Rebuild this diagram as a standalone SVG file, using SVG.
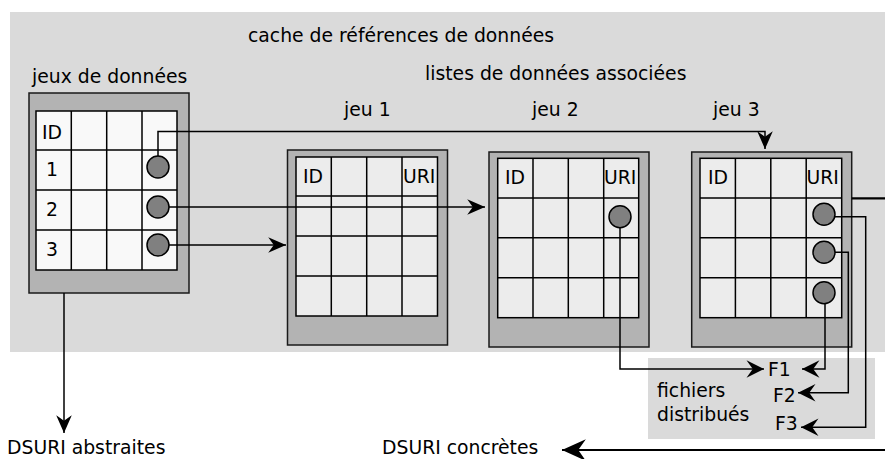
<svg xmlns="http://www.w3.org/2000/svg" width="885" height="459" viewBox="0 0 885 459">
<defs>
<style>
.t{font-family:"DejaVu Sans",sans-serif;font-size:18.8px;fill:#000}
.outer{fill:#b3b3b3;stroke:#1a1a1a;stroke-width:1.5}
.g1{fill:#f9f9f9;stroke:#000;stroke-width:1.5}
.g2{fill:#ececec;stroke:#000;stroke-width:1.5}
.gl{stroke:#000;stroke-width:1.5;fill:none}
.dot{fill:#808080;stroke:#000;stroke-width:1.5}
.c{fill:none;stroke:#000;stroke-width:1.5}
.ct{fill:none;stroke:#000;stroke-width:2.2}
.bg{fill:#dadada}
</style>
<marker id="ah" markerUnits="userSpaceOnUse" markerWidth="20" markerHeight="20" viewBox="-17 -8 18 16" refX="0" refY="0" orient="auto">
<path d="M0,0 L-16,-7 L-11,0 L-16,7 Z" fill="#000"/>
</marker>
<marker id="ahs" markerUnits="userSpaceOnUse" markerWidth="20" markerHeight="20" viewBox="-15 -8 16 16" refX="0" refY="0" orient="auto">
<path d="M0,0 L-14,-7 L-9,0 L-14,7 Z" fill="#000"/>
</marker>
<marker id="ahl" markerUnits="userSpaceOnUse" markerWidth="26" markerHeight="26" viewBox="-23 -11 24 22" refX="0" refY="0" orient="auto">
<path d="M0,0 L-22,-10 L-15,0 L-22,10 Z" fill="#000"/>
</marker>
</defs>

<g id="cache">
<rect class="bg" x="10" y="12" width="875" height="340"/>
<text class="t" x="248" y="42">cache de références de données</text>
<text class="t" x="425" y="80">listes de données associées</text>
</g>

<g id="fichiers">
<rect class="bg" x="648" y="358" width="227" height="81"/>
<text class="t" x="657" y="397">fichiers</text>
<text class="t" x="657" y="421">distribués</text>
<text class="t" x="768" y="376">F1</text>
<text class="t" x="773" y="402">F2</text>
<text class="t" x="775" y="430">F3</text>
</g>

<g id="jeux">
<text class="t" x="32" y="83">jeux de données</text>
<rect class="outer" x="29" y="93" width="160" height="200"/>
<rect class="g1" x="36" y="111" width="141" height="159"/>
<path class="gl" d="M71.3,111V270M106.7,111V270M142,111V270M36,150H177M36,190H177M36,230H177"/>
<text class="t" x="42" y="139">ID</text>
<text class="t" x="46" y="176">1</text>
<text class="t" x="46" y="216">2</text>
<text class="t" x="46" y="256">3</text>
<circle class="dot" cx="158" cy="167" r="11"/>
<circle class="dot" cx="158" cy="207" r="11"/>
<circle class="dot" cx="158" cy="245" r="11"/>
</g>

<g id="jeu1">
<text class="t" x="344" y="116">jeu 1</text>
<rect class="outer" x="287.5" y="150" width="160" height="195"/>
<rect class="g2" x="296" y="157" width="141.5" height="159"/>
<path class="gl" d="M331.3,157V316M366.7,157V316M402,157V316M296,196H437.5M296,236H437.5M296,276H437.5"/>
<text class="t" x="303" y="183">ID</text>
<text class="t" x="403" y="183">URI</text>
</g>

<g id="jeu2">
<text class="t" x="532" y="116">jeu 2</text>
<rect class="outer" x="489" y="152" width="160" height="195"/>
<rect class="g2" x="497.7" y="158.3" width="141" height="159.4"/>
<path class="gl" d="M533,158.3V317.7M568.3,158.3V317.7M603.7,158.3V317.7M497.7,198H638.7M497.7,237.7H638.7M497.7,277.7H638.7"/>
<text class="t" x="505" y="184">ID</text>
<text class="t" x="604" y="184">URI</text>
<circle class="dot" cx="620" cy="216.7" r="11"/>
</g>

<g id="jeu3">
<text class="t" x="713" y="116">jeu 3</text>
<rect class="outer" x="691.7" y="152" width="160" height="195"/>
<rect class="g2" x="700" y="158.3" width="141.7" height="159.4"/>
<path class="gl" d="M735.4,158.3V317.7M770.8,158.3V317.7M806.2,158.3V317.7M700,198H841.7M700,237.7H841.7M700,277.7H841.7"/>
<text class="t" x="708" y="184">ID</text>
<text class="t" x="806.5" y="184">URI</text>
<circle class="dot" cx="824" cy="214.3" r="11"/>
<circle class="dot" cx="824" cy="252.3" r="11"/>
<circle class="dot" cx="824" cy="292.7" r="11"/>
</g>

<g id="connectors">
<path class="c" d="M158,156V131.5H765V149" marker-end="url(#ah)"/>
<path class="c" d="M169,207H485" marker-end="url(#ah)"/>
<path class="c" d="M169,245H286" marker-end="url(#ah)"/>
<path class="c" d="M64,293V433" marker-end="url(#ah)"/>
<path class="c" d="M620,227.7V369H764" marker-end="url(#ahs)"/>
<path class="c" d="M825,303.7V369H802" marker-end="url(#ahs)"/>
<path class="c" d="M835,252.3H848.3V392.7H798" marker-end="url(#ahs)"/>
<path class="c" d="M834,216.7H865.7V427.3H801" marker-end="url(#ahs)"/>
<path class="ct" d="M851.7,198.3H885"/>
<path class="ct" d="M885,450H562" marker-end="url(#ahl)"/>
<text class="t" x="7" y="454">DSURI abstraites</text>
<text class="t" x="382" y="454">DSURI concrètes</text>
</g>
</svg>
